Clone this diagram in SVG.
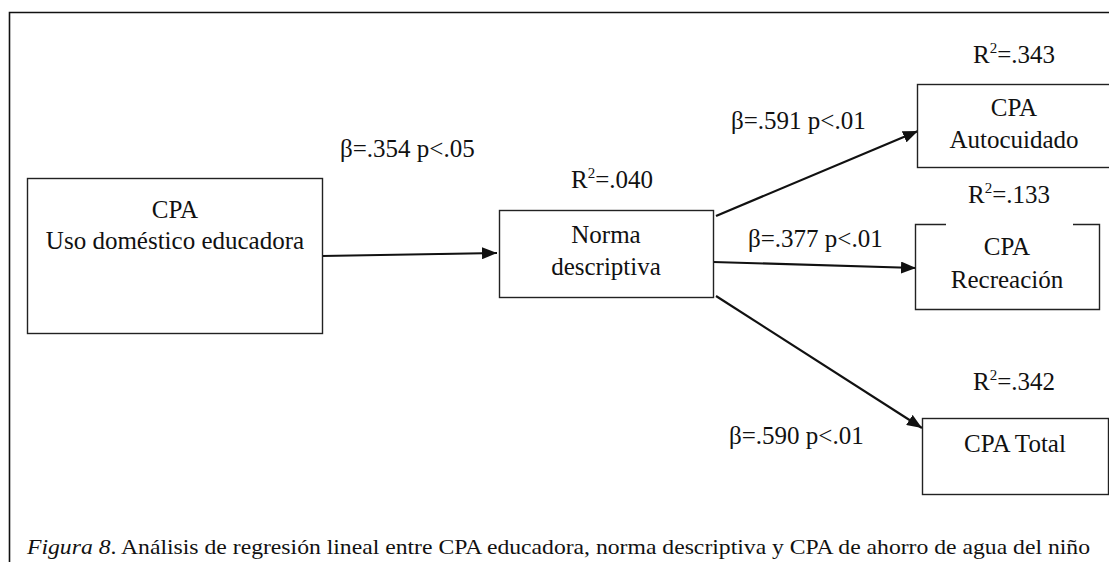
<svg xmlns="http://www.w3.org/2000/svg" width="1109" height="562" viewBox="0 0 1109 562">
  <style>
    .t { font-family: "Liberation Serif", "Times New Roman", serif; font-size: 25px; fill: #111; }
    .c { text-anchor: middle; }
    .sup { font-size: 15px; }
    .box { fill: #fff; stroke: #222; stroke-width: 1.4; }
    .edge { stroke: #111; stroke-width: 2.2; fill: none; marker-end: url(#arr); }
    .cap { font-family: "Liberation Serif", "Times New Roman", serif; font-size: 21px; fill: #111; }
  </style>
  <defs>
    <marker id="arr" markerUnits="userSpaceOnUse" markerWidth="16" markerHeight="12" refX="15" refY="6" orient="auto">
      <path d="M0,0 L15,6 L0,12 z" fill="#111"/>
    </marker>
  </defs>
  <rect width="1109" height="562" fill="#fff"/>
  <g id="frame">
    <path d="M9.5,562 L9.5,12.5 L1109,12.5" fill="none" stroke="#111" stroke-width="1.6"/>
  </g>

  <g id="connectors">
    <line class="edge" x1="322" y1="256" x2="497" y2="253"/>
    <line class="edge" x1="716" y1="216" x2="918" y2="131"/>
    <line class="edge" x1="713" y1="262" x2="916" y2="268"/>
    <line class="edge" x1="716" y1="296" x2="922" y2="428"/>
  </g>

  <g id="node-uso">
    <rect class="box" x="27.5" y="178.5" width="295" height="155"/>
    <text class="t c" x="175" y="218">CPA</text>
    <text class="t c" x="175" y="249">Uso doméstico educadora</text>
  </g>

  <g id="node-norma">
    <rect class="box" x="499.5" y="210.5" width="214" height="87"/>
    <text class="t c" x="606" y="243">Norma</text>
    <text class="t c" x="606" y="275">descriptiva</text>
  </g>

  <g id="node-autocuidado">
    <rect class="box" x="917.5" y="84.5" width="200" height="83"/>
    <text class="t c" x="1014" y="116">CPA</text>
    <text class="t c" x="1014" y="148">Autocuidado</text>
  </g>

  <g id="node-recreacion">
    <path d="M946,224.5 L915.5,224.5 L915.5,309.5 L1099.5,309.5 L1099.5,224.5 L1073,224.5" fill="#fff" stroke="#222" stroke-width="1.4"/>
    <text class="t c" x="1007" y="255">CPA</text>
    <text class="t c" x="1007" y="288">Recreación</text>
  </g>

  <g id="node-total">
    <rect class="box" x="922.5" y="418.5" width="186" height="76"/>
    <text class="t c" x="1015" y="452">CPA Total</text>
  </g>

  <g id="labels">
    <text class="t" x="340" y="157">β=.354 p&lt;.05</text>
    <text class="t" x="571" y="188">R<tspan class="sup" dy="-10">2</tspan><tspan dy="10">=.040</tspan></text>
    <text class="t" x="731" y="129">β=.591 p&lt;.01</text>
    <text class="t" x="748" y="247">β=.377 p&lt;.01</text>
    <text class="t" x="729" y="444">β=.590 p&lt;.01</text>
    <text class="t" x="973" y="63">R<tspan class="sup" dy="-10">2</tspan><tspan dy="10">=.343</tspan></text>
    <text class="t" x="968" y="203">R<tspan class="sup" dy="-10">2</tspan><tspan dy="10">=.133</tspan></text>
    <text class="t" x="973" y="390">R<tspan class="sup" dy="-10">2</tspan><tspan dy="10">=.342</tspan></text>
  </g>

  <g id="caption">
    <text class="cap" x="27" y="554" textLength="1063" lengthAdjust="spacingAndGlyphs"><tspan font-style="italic">Figura 8</tspan>. Análisis de regresión lineal entre CPA educadora, norma descriptiva y CPA de ahorro de agua del niño</text>
  </g>
</svg>
